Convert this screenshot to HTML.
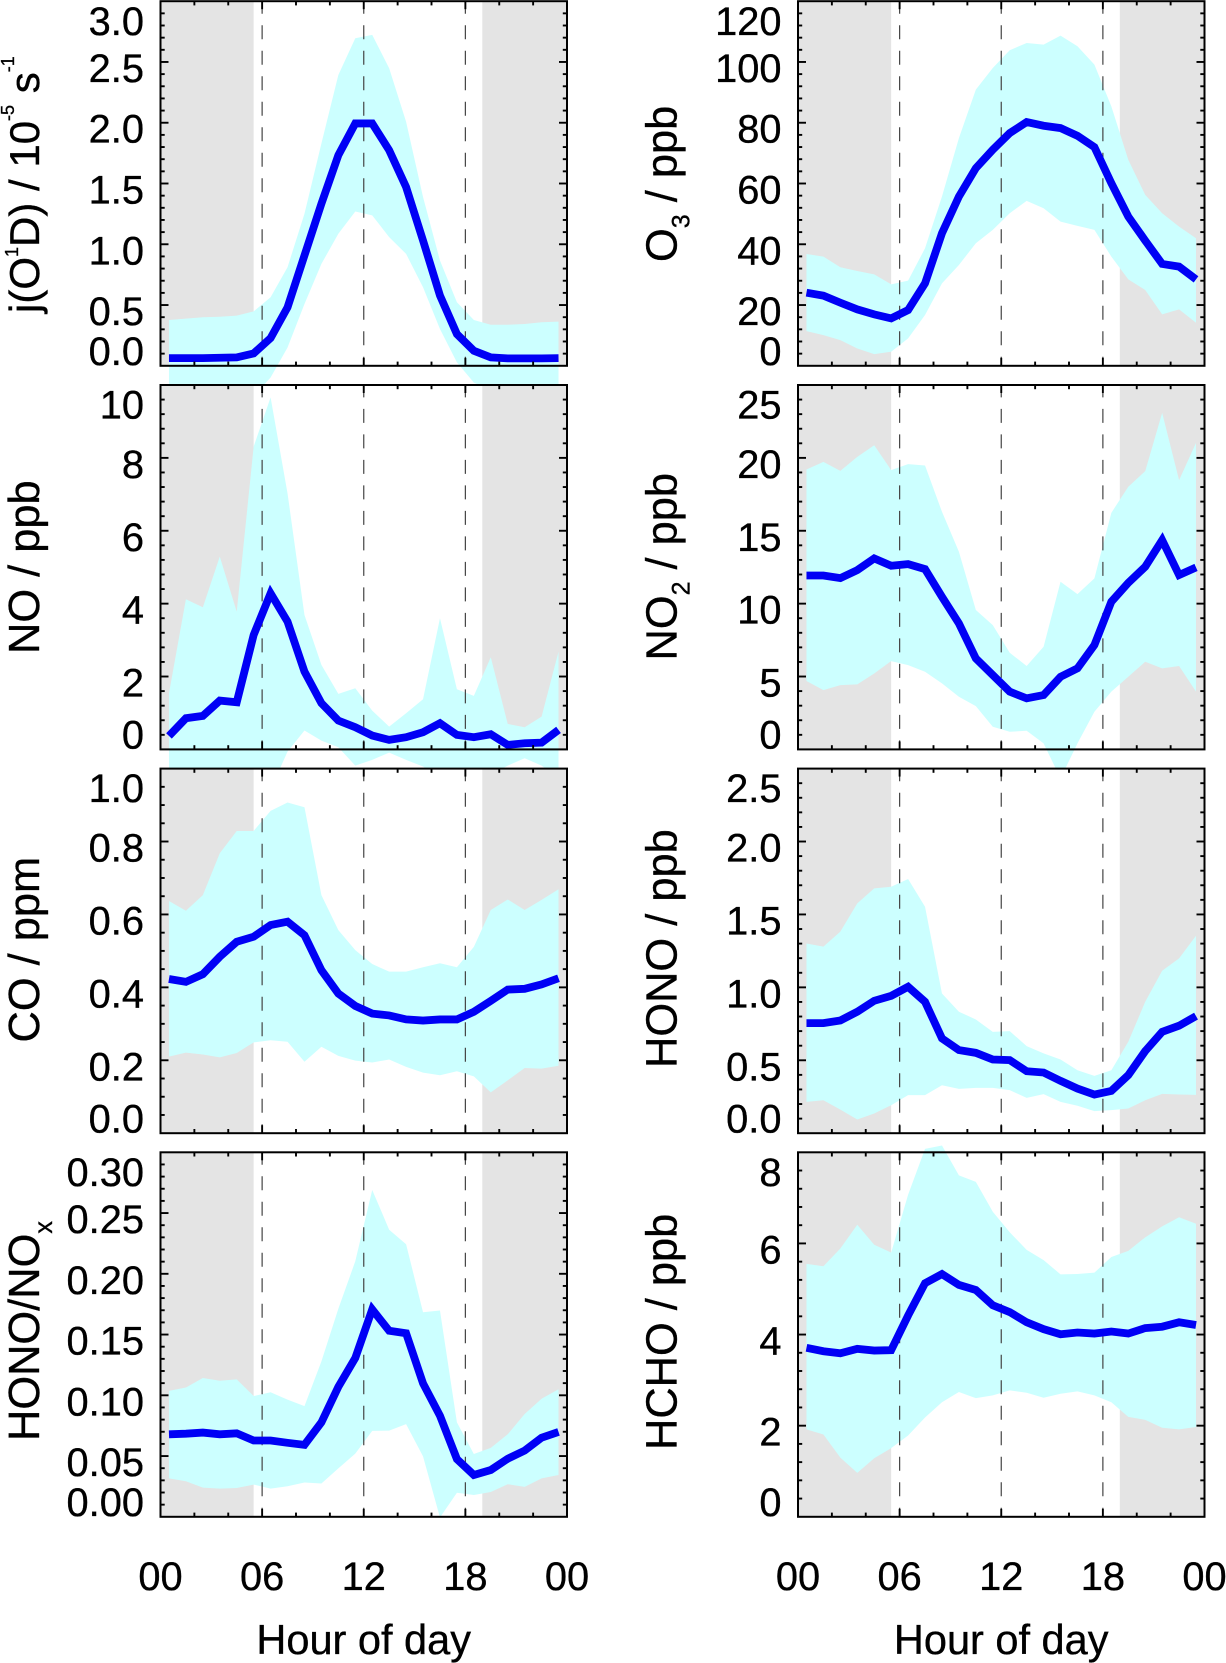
<!DOCTYPE html>
<html lang="en">
<head>
<meta charset="utf-8">
<title>Diurnal profiles of trace gases</title>
<style>
html,body{margin:0;padding:0;background:#fff;width:1226px;height:1663px;overflow:hidden}
svg{display:block}
text{font-family:"Liberation Sans",Arial,sans-serif;fill:#000;stroke:#000;stroke-width:.35px}
</style>
</head>
<body>
<svg id="figure" xmlns="http://www.w3.org/2000/svg" width="1226" height="1663" viewBox="0 0 1226 1663">
<g id="plots"></g>
<g id="titles" font-size="43.4">
<text font-size="42" transform="translate(39,313) rotate(-90)">j(O<tspan dy="-21" font-size="18">1</tspan><tspan dy="21">D) / 10</tspan><tspan dy="-25" font-size="18">-5</tspan><tspan dy="25"> s</tspan><tspan dy="-25" font-size="18">-1</tspan></text>
<text transform="translate(39,654) rotate(-90)">NO / ppb</text>
<text transform="translate(39,1042.5) rotate(-90)">CO / ppm</text>
<text transform="translate(39,1441) rotate(-90)">HONO/NO<tspan dy="13" font-size="25">x</tspan></text>
<text transform="translate(676.5,262) rotate(-90)">O<tspan dy="13" font-size="25">3</tspan><tspan dy="-13"> / ppb</tspan></text>
<text transform="translate(676.5,660.5) rotate(-90)">NO<tspan dy="13" font-size="25">2</tspan><tspan dy="-13"> / ppb</tspan></text>
<text transform="translate(676.5,1068) rotate(-90)">HONO / ppb</text>
<text transform="translate(676.5,1450) rotate(-90)">HCHO / ppb</text>
<text x="363.7" y="1654" text-anchor="middle" font-size="41.5">Hour of day</text>
<text x="1001.2" y="1654" text-anchor="middle" font-size="41.5">Hour of day</text>
</g>
</svg>
<script>
const hours = [0.5,1.5,2.5,3.5,4.5,5.5,6.5,7.5,8.5,9.5,10.5,11.5,12.5,13.5,14.5,15.5,16.5,17.5,18.5,19.5,20.5,21.5,22.5,23.5];
const xTickHours = [0,6,12,18,24];
const xTickLabels = ['00','06','12','18','00'];
const xMinorHours = [2,4,8,10,14,16,20,22];
const dashHours = [6,12,18];
const nightStart = 5.5;
const nightEnd = 19;

const jo1dMean = [.063,.063,.063,.066,.069,.102,.228,.481,.908,1.334,1.733,1.994,1.994,1.774,1.471,1.031,.578,.261,.124,.069,.061,.061,.061,.063];
const jo1dUpper = [.377,.388,.399,.404,.413,.448,.564,.811,1.251,1.829,2.393,2.695,2.723,2.448,2.008,1.389,.866,.523,.377,.338,.338,.344,.358,.363];
const jo1dLower = [-.25,-.26,-.27,-.27,-.28,-.25,-.096,.151,.509,.839,1.086,1.27,1.238,1.059,.921,.646,.303,.028,-.138,-.2,-.22,-.22,-.22,-.22];
const jo1dTicks = ['0.0','0.5','1.0','1.5','2.0','2.5','3.0'];

const noMean = [.37,.855,.919,1.34,1.294,3.141,4.284,3.507,2.135,1.267,.791,.608,.38,.261,.334,.471,.718,.398,.334,.416,.123,.169,.187,.535];
const noUpper = [1.541,4.12,3.9,5.29,3.781,8.308,9.661,7.027,3.69,2.318,1.523,1.678,1.065,.626,.992,1.376,3.599,1.651,1.468,2.529,.7,.608,.901,2.684];
const noLower = [-.8,-2.4,-2.06,-2.6,-1.19,-2.03,-1.1,-.06,.517,.242,.06,-.444,-.288,-.087,-.288,-.471,-.8,-.7,-.8,-.7,-.444,-.242,-.444,-.8];
const noTicks = ['0','2','4','6','8','10'];

const coMean = [.423,.415,.436,.484,.525,.539,.571,.58,.543,.447,.383,.349,.328,.323,.312,.309,.312,.312,.333,.363,.394,.396,.408,.425];
const coUpper = [.637,.61,.653,.768,.829,.829,.884,.907,.894,.653,.557,.502,.464,.443,.443,.455,.466,.455,.511,.612,.641,.612,.64,.669];
const coLower = [.21,.221,.216,.208,.22,.249,.255,.251,.196,.237,.212,.199,.194,.202,.182,.166,.159,.17,.156,.112,.145,.179,.177,.185];
const coTicks = ['0.0','0.2','0.4','0.6','0.8','1.0'];

const ratioMean = [.0679,.0684,.0693,.0679,.0687,.0628,.0628,.0609,.0592,.0777,.107,.1307,.1707,.1531,.1511,.1098,.0832,.0475,.0344,.0385,.0478,.0545,.0651,.0698];
const ratioUpper = [.1036,.1064,.1142,.112,.1131,.0994,.1025,.0964,.0911,.1279,.1712,.2103,.269,.2363,.2243,.1684,.1698,.0777,.0517,.0567,.0679,.0846,.0972,.105];
const ratioLower = [.0316,.0293,.024,.0232,.0237,.0265,.0232,.0251,.0282,.0274,.0399,.052,.0707,.0709,.0763,.0497,-.0006,.0198,.0179,.0204,.0268,.0246,.0316,.0344];
const ratioTicks = ['0.00','0.05','0.10','0.15','0.20','0.25','0.30'];

const o3Mean = [24.07,23.08,20.77,18.57,16.92,15.6,18.35,27.14,43.63,55.71,65.05,71.1,76.59,80.22,79.01,78.24,75.71,71.98,60.11,49.12,41.21,33.52,32.64,28.46];
const o3Upper = [36.81,35.93,32.42,31.21,30.11,26.81,28.02,38.68,55.71,74.95,90.88,98.02,103.85,106.26,105.71,108.68,105.16,99.12,85.38,67.8,56.26,50.22,45.82,41.98];
const o3Lower = [11.43,10.11,8.46,5.71,3.85,4.62,9.01,16.7,27.14,33.19,40.33,44.73,50.22,54.29,51.87,47.47,46.04,44.73,35.93,28.46,24.95,16.92,18.57,14.18];
const o3Ticks = ['0','20','40','60','80','100','120'];

const no2Mean = [11.93,11.93,11.75,12.3,13.1,12.6,12.71,12.37,10.47,8.64,6.24,5.1,3.96,3.5,3.73,4.98,5.56,7.16,10.13,11.43,12.53,14.36,11.96,12.48];
const no2Upper = [19.2,19.73,19.11,20.07,20.87,19.16,19.57,19.48,16.3,13.56,9.56,8.53,6.63,5.72,7.04,11.5,10.65,11.73,16.23,18.02,19.09,23.09,18.47,21.03];
const no2Lower = [4.69,4.07,4.41,4.46,5.21,6.06,5.78,5.33,4.53,3.61,2.97,1.55,1.21,1.28,.41,-1.99,.41,2.58,3.96,4.98,6.01,5.56,5.72,3.96];
const no2Ticks = ['0','5','10','15','20','25'];

const honoMean = [.755,.755,.773,.833,.908,.942,1.004,.901,.65,.57,.551,.505,.501,.425,.416,.359,.306,.265,.29,.398,.563,.695,.737,.803];
const honoUpper = [1.301,1.279,1.382,1.576,1.679,1.69,1.743,1.553,.958,.833,.78,.695,.7,.597,.547,.505,.432,.393,.432,.627,.901,1.114,1.199,1.354];
const honoLower = [.215,.226,.162,.094,.135,.192,.261,.261,.329,.304,.311,.311,.295,.242,.268,.215,.188,.151,.158,.169,.226,.27,.265,.263];
const honoTicks = ['0.0','0.5','1.0','1.5','2.0','2.5'];

const hchoMean = [3.709,3.634,3.59,3.687,3.649,3.657,4.418,5.127,5.328,5.09,4.978,4.642,4.493,4.269,4.119,4.007,4.045,4.022,4.067,4.022,4.142,4.172,4.269,4.209];
const hchoUpper = [5.552,5.5,5.888,6.41,5.97,5.799,7.067,8.075,8.149,7.493,7.351,6.694,6.246,5.858,5.634,5.321,5.328,5.358,5.701,5.836,6.134,6.373,6.575,6.433];
const hchoLower = [1.918,1.806,1.299,.963,1.284,1.507,1.784,2.179,2.515,2.739,2.604,2.664,2.776,2.724,2.612,2.701,2.754,2.664,2.515,2.194,2.127,1.955,1.918,1.97];
const hchoTicks = ['0','2','4','6','8'];

const panels = [
  {key:'jo1d',column:0,row:0,yMax:3,minor:0.1,mean:jo1dMean,upper:jo1dUpper,lower:jo1dLower,ticks:jo1dTicks},
  {key:'o3',column:1,row:0,yMax:120,minor:4,mean:o3Mean,upper:o3Upper,lower:o3Lower,ticks:o3Ticks},
  {key:'no',column:0,row:1,yMax:10,minor:0.4,mean:noMean,upper:noUpper,lower:noLower,ticks:noTicks},
  {key:'no2',column:1,row:1,yMax:25,minor:1,mean:no2Mean,upper:no2Upper,lower:no2Lower,ticks:no2Ticks},
  {key:'co',column:0,row:2,yMax:1,minor:0.05,mean:coMean,upper:coUpper,lower:coLower,ticks:coTicks},
  {key:'hono',column:1,row:2,yMax:2.5,minor:0.1,mean:honoMean,upper:honoUpper,lower:honoLower,ticks:honoTicks},
  {key:'hono-nox',column:0,row:3,yMax:0.3,minor:0.01,mean:ratioMean,upper:ratioUpper,lower:ratioLower,ticks:ratioTicks},
  {key:'hcho',column:1,row:3,yMax:8,minor:0.4,mean:hchoMean,upper:hchoUpper,lower:hchoLower,ticks:hchoTicks}
];

const columnLeft = [160.5,798];
const plotWidth = 406.5;
const rowTop = [1.2,385,768.6,1152.3];
const rowBottom = [365.8,749.4,1133.2,1516.8];
const NS = 'http://www.w3.org/2000/svg';
const root = document.getElementById('plots');

function make(tag, parent, attrs){
  const el = document.createElementNS(NS, tag);
  for (const k in attrs) el.setAttribute(k, attrs[k]);
  parent.appendChild(el);
  return el;
}
function xScale(p, h){ return columnLeft[p.column] + h / 24 * plotWidth; }
function yScale(p, v){
  const t = rowTop[p.row], b = rowBottom[p.row];
  return b - v / p.yMax * (b - t);
}

panels.forEach(function(p){
  const L = columnLeft[p.column], R = L + plotWidth, T = rowTop[p.row], B = rowBottom[p.row];
  const g = make('g', root, {});
  
  

  const bg = make('rect', g, {x:L,y:T,width:plotWidth,height:B-T,fill:'#fff'});
  
  

  const nightA = make('rect', g, {x:L,y:T,width:xScale(p,nightStart)-L,height:B-T,fill:'#e4e4e4'});
  
  
  const nightB = make('rect', g, {x:xScale(p,nightEnd),y:T,width:R-xScale(p,nightEnd),height:B-T,fill:'#e4e4e4'});
  
  

  const up = hours.map(function(h,i){ return xScale(p,h).toFixed(2)+','+yScale(p,p.upper[i]).toFixed(2); });
  const low = hours.map(function(h,i){ return xScale(p,h).toFixed(2)+','+yScale(p,p.lower[i]).toFixed(2); }).reverse();
  const band = make('polygon', g, {points:up.concat(low).join(' '),fill:'#ccffff'});
  
  

  dashHours.forEach(function(h){
    const x = xScale(p,h);
    const d = make('line', g, {x1:x,y1:B,x2:x,y2:T,stroke:'#444','stroke-width':1.2,'stroke-dasharray':'14 11.5','stroke-dashoffset':5});
    
    
  });

  const pts = hours.map(function(h,i){ return xScale(p,h).toFixed(2)+','+yScale(p,p.mean[i]).toFixed(2); });
  const line = make('polyline', g, {points:pts.join(' '),fill:'none',stroke:'#0000f5','stroke-width':7.8,'stroke-linejoin':'miter'});
  
  

  const tickAttrs = {stroke:'#000','stroke-width':1.9};
  xTickHours.slice(1,4).forEach(function(h){
    const x = xScale(p,h);
    [[B,B-8],[T,T+8]].forEach(function(s){
      const t = make('line', g, Object.assign({x1:x,x2:x,y1:s[0],y2:s[1]}, tickAttrs));
      
      
    });
  });
  xMinorHours.forEach(function(h){
    const x = xScale(p,h);
    [[B,B-4.2],[T,T+4.2]].forEach(function(s){
      const t = make('line', g, Object.assign({x1:x,x2:x,y1:s[0],y2:s[1]}, tickAttrs));
      
      
    });
  });

  const majorValues = p.ticks.map(Number);
  const nMinor = Math.round(p.yMax / p.minor);
  for (let i = 1; i < nMinor; i++){
    const v = i * p.minor;
    const isMajor = majorValues.some(function(m){ return Math.abs(m - v) < p.minor / 10; });
    const y = yScale(p, v);
    const len = isMajor ? 8 : 4.2;
    [[L,L+len],[R,R-len]].forEach(function(s){
      const t = make('line', g, Object.assign({x1:s[0],x2:s[1],y1:y,y2:y}, tickAttrs));
      
      
    });
  }

  const frame = make('rect', g, {x:L,y:T,width:plotWidth,height:B-T,fill:'none',stroke:'#000','stroke-width':2});
  
  

  p.ticks.forEach(function(label){
    const centre = Math.min(B - 14.5, Math.max(T + 20, yScale(p, Number(label)) + 6.4));
    const tx = make('text', g, {x:L-16.5,y:centre+13.6,'text-anchor':'end','font-size':39.8});
    
    
    tx.textContent = label;
  });

  if (p.row === 3){
    xTickHours.forEach(function(h,i){
      const tx = make('text', g, {x:xScale(p,h),y:1590,'text-anchor':'middle','font-size':39.8});
      
      
      tx.textContent = xTickLabels[i];
    });
  }
});
</script>
</body>
</html>
